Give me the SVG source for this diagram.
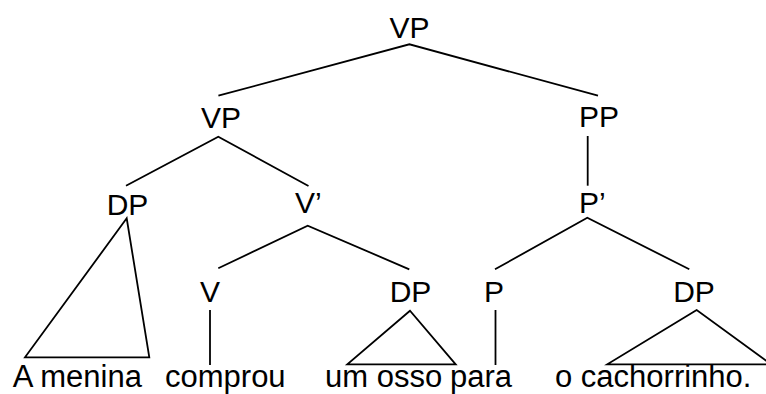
<svg xmlns="http://www.w3.org/2000/svg" width="766" height="394" viewBox="0 0 766 394">
<style>
.lbl{font-family:"Liberation Sans",Arial,sans-serif;font-size:30px;fill:#000;text-anchor:middle}
.lbs{font-family:"Liberation Sans",Arial,sans-serif;font-size:30px;fill:#000}
.wd{font-family:"Liberation Sans",Arial,sans-serif;font-size:31px;fill:#000}
.ln{stroke:#000;stroke-width:1.8;fill:none;stroke-linejoin:miter}
</style>
<rect width="766" height="394" fill="#fff"/>
<g id="connectors">
<polyline class="ln" points="218.4,95.7 409.4,44.3 598,95.7"/>
<polyline class="ln" points="126,185.7 218.3,136.7 308.5,186"/>
<line class="ln" x1="587.7" y1="136" x2="587.7" y2="185.7"/>
<polyline class="ln" points="218.3,268.3 307.7,225.7 409.3,269.3"/>
<polyline class="ln" points="495,269.3 587.3,217.7 689.3,269.3"/>
<line class="ln" x1="210" y1="310" x2="210" y2="365"/>
<line class="ln" x1="495.5" y1="310" x2="495.5" y2="365"/>
<polygon class="ln" points="126.7,218.3 25,357.3 149.3,357.3"/>
<polygon class="ln" points="410,310.7 347.3,364.3 455.7,364.3"/>
<polygon class="ln" points="696.7,310 607.3,364.3 771,364.3"/>
</g>
<g id="vp-top"><text class="lbl" x="409.5" y="38">VP</text></g>
<g id="vp"><text class="lbl" x="221" y="128">VP</text></g>
<g id="pp"><text class="lbl" x="599" y="127">PP</text></g>
<g id="dp-1"><text class="lbl" x="127.5" y="215">DP</text></g>
<g id="v-bar"><text class="lbs" x="295" y="213">V’</text></g>
<g id="p-bar"><text class="lbs" x="579" y="213">P’</text></g>
<g id="v"><text class="lbl" x="210" y="302">V</text></g>
<g id="dp-2"><text class="lbl" x="410.5" y="302">DP</text></g>
<g id="p"><text class="lbl" x="494" y="302">P</text></g>
<g id="dp-3"><text class="lbl" x="694" y="302">DP</text></g>
<g id="w-a-menina"><text class="wd" x="12.7" y="387">A menina</text></g>
<g id="w-comprou"><text class="wd" x="165" y="387">comprou</text></g>
<g id="w-um-osso"><text class="wd" x="325" y="387">um osso</text></g>
<g id="w-para"><text class="wd" x="450" y="387">para</text></g>
<g id="w-o-cachorrinho"><text class="wd" x="555" y="387">o cachorrinho.</text></g>
</svg>
